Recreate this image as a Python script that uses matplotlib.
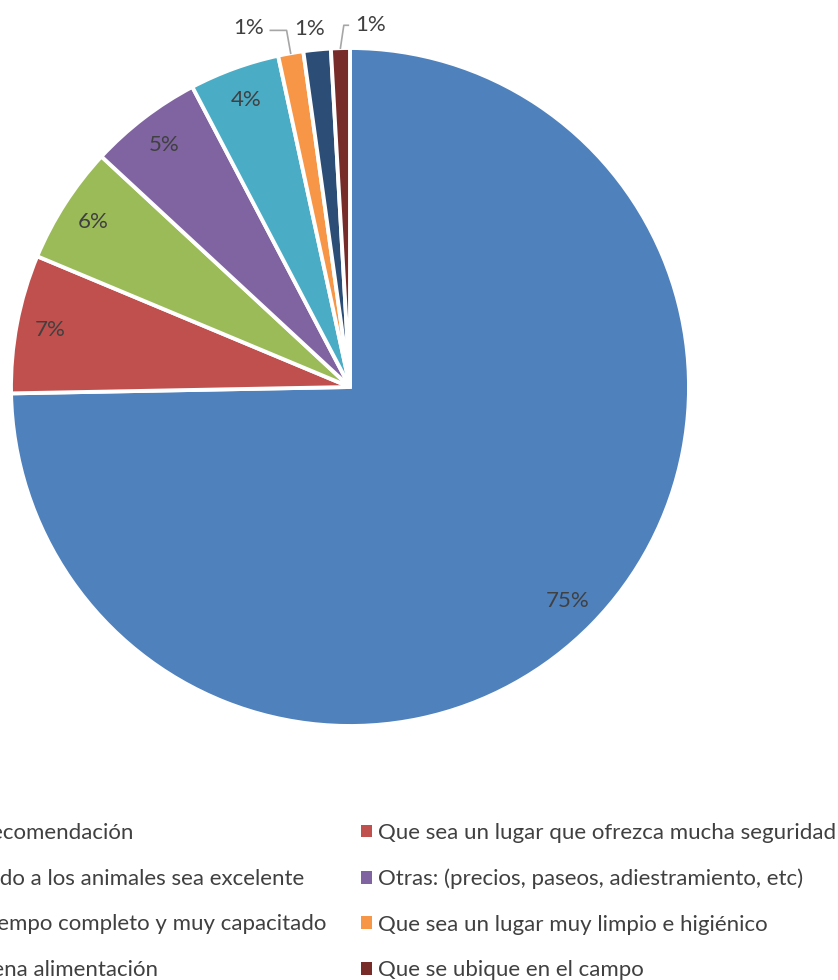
import numpy as np
import matplotlib
matplotlib.use('Agg')
import matplotlib.pyplot as plt

# share of answers (percent)
labels = ['Por buena recomendación',
          'Que sea un lugar que ofrezca mucha seguridad',
          'Que el cuidado a los animales sea excelente',
          'Otras: (precios, paseos, adiestramiento, etc)',
          'Personal a tiempo completo y muy capacitado',
          'Que sea un lugar muy limpio e higiénico',
          'Que den buena alimentación',
          'Que se ubique en el campo']
values = [74.7, 6.6, 5.6, 5.4, 4.3, 1.2, 1.3, 0.9]
colors = ['#4F81BD', '#C0504D', '#9BBB59', '#8064A2',
          '#4BACC6', '#F79646', '#2C4D75', '#772C2A']

txtcol = '#404040'
plt.rcParams['font.family'] = ['Lato', 'DejaVu Sans']
plt.rcParams['font.style'] = 'normal'
plt.rcParams['font.weight'] = 'normal'

W, H = 838, 980
fig = plt.figure(figsize=(W/100., H/100.), dpi=100)

# pie centre and radius in pixels
cx, cy, R = 350, 387, 339
ax = fig.add_axes([(cx-R)/W, (H-cy-R)/H, 2*R/W, 2*R/H])

wedges, texts, autotexts = ax.pie(values, colors=colors, startangle=90,
                                  counterclock=False, radius=1.0,
                                  autopct='%1.0f%%', pctdistance=0.9,
                                  wedgeprops=dict(edgecolor='white', linewidth=2.8),
                                  textprops=dict(color=txtcol, fontsize=16))
# pie() resets the limits, so set them afterwards
ax.set_xlim(-1, 1)
ax.set_ylim(-1, 1)
ax.set_aspect('equal')
ax.axis('off')

# small slices: labels outside with leader lines
outside = {5: (-0.30, 1.06, 'left'), 6: (-0.12, 1.055, None), 7: (0.06, 1.067, 'right')}
for i, (tx, ty, side) in outside.items():
    autotexts[i].set_position((tx, ty))
    w = wedges[i]
    th = np.deg2rad((w.theta1 + w.theta2) / 2.)
    px, py = np.cos(th), np.sin(th)
    if side == 'left':
        ax.plot([px, px - 0.012, tx + 0.065], [py, ty - 0.008, ty - 0.008],
                color='#A6A6A6', lw=1.2, clip_on=False)
    elif side == 'right':
        ax.plot([px, px + 0.01, tx - 0.065], [py, ty, ty],
                color='#A6A6A6', lw=1.2, clip_on=False)

# legend, two columns; the left one runs off the page
fs = 16
common = dict(frameon=False, fontsize=fs, handlelength=0.5, handleheight=0.5,
              handletextpad=0.25, labelspacing=1.15, borderpad=0, borderaxespad=0,
              labelcolor=txtcol)
leg1 = fig.legend([wedges[i] for i in (0, 2, 4, 6)], [labels[i] for i in (0, 2, 4, 6)],
                  loc='upper right', bbox_to_anchor=(326/W, 1 - 823/H), **common)
leg2 = fig.legend([wedges[i] for i in (1, 3, 5, 7)], [labels[i] for i in (1, 3, 5, 7)],
                  loc='upper left', bbox_to_anchor=(361/W, 1 - 823/H), **common)
for leg in (leg1, leg2):
    for h in leg.legend_handles:
        h.set_linewidth(0)

fig.savefig('out.png', dpi=100)
